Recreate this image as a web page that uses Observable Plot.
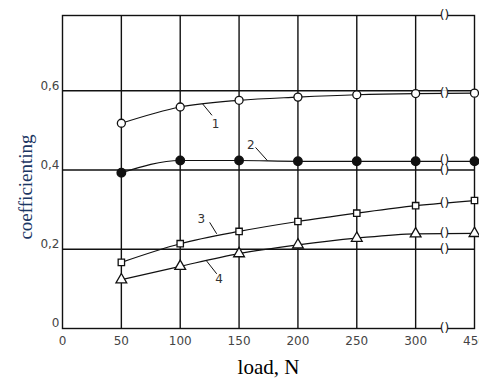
<!DOCTYPE html>
<html><head><meta charset="utf-8">
<script src="https://cdn.jsdelivr.net/npm/d3@7"></script>
<script src="https://cdn.jsdelivr.net/npm/@observablehq/plot@0.6"></script>
<style>body{margin:0;background:#fff}</style>
</head><body><div id="chart"></div>
<script>
// ---- data ----
const loads = [50, 100, 150, 200, 250, 300, 450];
const curve1 = [0.518, 0.559, 0.576, 0.584, 0.590, 0.593, 0.594];   // open circles
const curve2 = [0.393, 0.424, 0.424, 0.422, 0.422, 0.422, 0.422];   // filled circles
const curve3 = [0.167, 0.214, 0.245, 0.270, 0.291, 0.310, 0.323];   // open squares
const curve4 = [0.123, 0.157, 0.189, 0.211, 0.228, 0.239, 0.240];   // open triangles
const xTicks = [0, 50, 100, 150, 200, 250, 300, 450];
const yTicks = [0, 0.2, 0.4, 0.6];
const xGrid = [50, 100, 150, 200, 250, 300];
const yGrid = [0.2, 0.4, 0.6];
// curve labels: text position and leader line (data units)
const labelNames = ["1", "2", "3", "4"];
const labelX = [130, 160, 118, 133];
const labelY = [0.517, 0.462, 0.277, 0.125];
const leaderX1 = [119, 164, 125, 122];
const leaderY1 = [0.567, 0.457, 0.268, 0.172];
const leaderX2 = [127, 174, 131, 131];
const leaderY2 = [0.538, 0.424, 0.239, 0.138];
// broken-axis marks between 300 and 450
const breakY = [0, 0.2, 0.24, 0.316, 0.4, 0.424, 0.593, 0.79];

// axis break: the 450 N column is drawn in the slot after 300
const slot = v => v === 450 ? 350 : v;
const slotInv = v => v === 350 ? 450 : v;
const breakSlot = 324.5;

const series = [curve1, curve2, curve3, curve4];
const rows = [];
series.forEach((vals, i) => loads.forEach((l, j) => rows.push({s: i + 1, x: slot(l), y: vals[j]})));
const labels = labelNames.map((t, i) => ({t, x: labelX[i], y: labelY[i], x1: leaderX1[i], y1: leaderY1[i], x2: leaderX2[i], y2: leaderY2[i]}));
const breaks = breakY.map(y => ({x: breakSlot, y}));

const ink = "#111";
const chart = Plot.plot({
  width: 479, height: 378,
  marginLeft: 62, marginRight: 5, marginTop: 15, marginBottom: 50,
  x: {domain: [0, 350], label: null},
  y: {domain: [0, 0.79], label: null},
  style: {fontFamily: "DejaVu Sans", background: "white"},
  marks: [
    Plot.ruleX(xGrid, {stroke: ink, strokeWidth: 1.4}),
    Plot.ruleY(yGrid, {stroke: ink, strokeWidth: 1.4}),
    Plot.frame({stroke: ink, strokeWidth: 1.4}),
    Plot.line(rows, {x: "x", y: "y", z: "s", curve: "monotone-x", stroke: ink, strokeWidth: 1.2}),
    Plot.dot(breaks, {x: "x", y: "y", symbol: "square", r: 3.8, fill: "white", stroke: "none"}),
    Plot.text(breaks, {x: "x", y: "y", text: d => "()", fontSize: 12, fill: ink}),
    Plot.dot(rows.filter(d => d.s === 1), {x: "x", y: "y", symbol: "circle", r: 4, fill: "white", stroke: ink, strokeWidth: 1.3}),
    Plot.dot(rows.filter(d => d.s === 2), {x: "x", y: "y", symbol: "circle", r: 4.2, fill: ink, stroke: ink}),
    Plot.dot(rows.filter(d => d.s === 3), {x: "x", y: "y", symbol: "square", r: 3.6, fill: "white", stroke: ink, strokeWidth: 1.3}),
    Plot.dot(rows.filter(d => d.s === 4), {x: "x", y: "y", symbol: "triangle", r: 4, fill: "white", stroke: ink, strokeWidth: 1.3}),
    Plot.link(labels, {x1: "x1", y1: "y1", x2: "x2", y2: "y2", stroke: ink, strokeWidth: 1}),
    Plot.text(labels, {x: "x", y: "y", text: "t", fontSize: 12, fill: "#333"}),
    Plot.axisX(xTicks.map(slot), {tickSize: 0, tickPadding: 8, fontSize: 12, fill: "#444", tickFormat: v => String(slotInv(v)), label: null}),
    Plot.axisY(yTicks, {tickSize: 0, tickPadding: 3, dy: -5, fontSize: 12, fill: "#444", tickFormat: v => v === 0 ? "0" : String(v).replace(".", ","), label: null}),
    Plot.text(["load, N"], {frameAnchor: "bottom", textAnchor: "middle", dy: 45, fontSize: 21, fontFamily: "Liberation Serif", fill: "#000"}),
    Plot.text(["coefficienting"], {frameAnchor: "left", textAnchor: "middle", dx: -37, dy: 15, rotate: -90, fontSize: 19, fontFamily: "Liberation Serif", fill: "#1b3663"})
  ]
});
document.getElementById("chart").append(chart);
</script>
</body></html>
